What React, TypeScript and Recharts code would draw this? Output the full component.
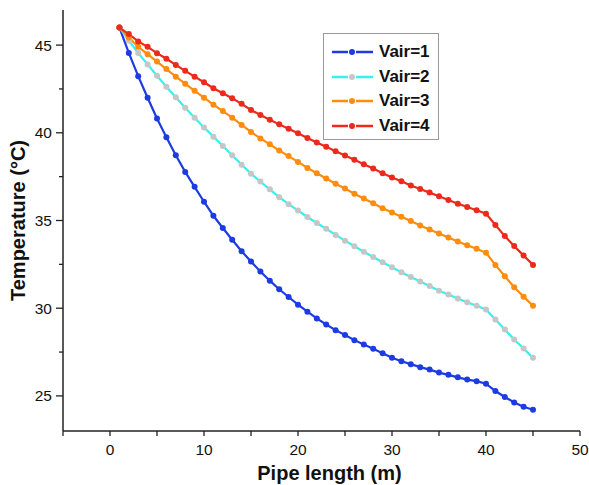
import { LineChart, Line, XAxis, YAxis, Legend, Label } from "recharts";

// pipe positions (m)
const pipeLength = [
  1, 2, 3, 4, 5, 6, 7, 8, 9, 10, 11, 12, 13, 14, 15, 16, 17, 18, 19, 20, 21, 22, 23,
  24, 25, 26, 27, 28, 29, 30, 31, 32, 33, 34, 35, 36, 37, 38, 39, 40, 41, 42, 43, 44, 45,
];

// temperature (°C) per air velocity
const vair1 = [
  46.0, 44.55, 43.23, 42.0, 40.82, 39.75, 38.72, 37.77, 36.92, 36.07,
  35.27, 34.57, 33.9, 33.25, 32.66, 32.09, 31.57, 31.08, 30.64, 30.2,
  29.8, 29.42, 29.07, 28.75, 28.47, 28.18, 27.93, 27.69, 27.43, 27.17,
  26.98, 26.81, 26.64, 26.5, 26.33, 26.2, 26.06, 25.93, 25.84, 25.7,
  25.28, 24.94, 24.63, 24.38, 24.21,
];
const vair2 = [
  46.0, 45.25, 44.55, 43.9, 43.25, 42.62, 42.02, 41.43, 40.86, 40.3,
  39.78, 39.25, 38.72, 38.18, 37.67, 37.22, 36.78, 36.33, 35.93, 35.57,
  35.2, 34.86, 34.53, 34.18, 33.85, 33.53, 33.22, 32.92, 32.62, 32.33,
  32.05, 31.78, 31.52, 31.26, 31.0, 30.78, 30.55, 30.34, 30.14, 29.93,
  29.35, 28.78, 28.22, 27.7, 27.17,
];
const vair3 = [
  46.0, 45.43, 44.9, 44.48, 44.06, 43.63, 43.2, 42.8, 42.39, 42.0,
  41.6, 41.24, 40.86, 40.45, 40.05, 39.68, 39.34, 38.99, 38.67, 38.34,
  38.0, 37.69, 37.39, 37.1, 36.82, 36.53, 36.26, 35.98, 35.7, 35.46,
  35.22, 34.97, 34.72, 34.49, 34.26, 34.03, 33.8, 33.59, 33.39, 33.16,
  32.47, 31.82, 31.19, 30.66, 30.14,
];
const vair4 = [
  46.0, 45.63, 45.21, 44.9, 44.54, 44.22, 43.87, 43.53, 43.2, 42.88,
  42.54, 42.25, 41.97, 41.65, 41.3, 41.01, 40.74, 40.48, 40.23, 39.97,
  39.7, 39.45, 39.2, 38.95, 38.71, 38.46, 38.21, 37.96, 37.7, 37.45,
  37.24, 37.0, 36.8, 36.59, 36.38, 36.17, 35.96, 35.77, 35.58, 35.39,
  34.74, 34.11, 33.54, 33.0, 32.47,
];

const seriesNames = ["Vair=1", "Vair=2", "Vair=3", "Vair=4"];
const lineColors = ["#1d3be2", "#38f0f0", "#ff8c0e", "#ec2a1c"];
const dotColors = ["#1d3be2", "#c6c6c6", "#ff8c0e", "#ec2a1c"];

const xTicks = [-5, 0, 5, 10, 15, 20, 25, 30, 35, 40, 45, 50];
const yTicks = [25, 27.5, 30, 32.5, 35, 37.5, 40, 42.5, 45];

const data = pipeLength.map((x, i) => ({
  x,
  v1: vair1[i],
  v2: vair2[i],
  v3: vair3[i],
  v4: vair4[i],
}));

const FRAME = "#222";
const FONT = "'Liberation Sans', Arial, sans-serif";

const LeftTick = ({ x, y, payload }: any) => {
  const major = payload.value % 5 === 0;
  return (
    <g>
      <line x1={x} y1={y} x2={x - (major ? 7 : 4)} y2={y} stroke={FRAME} strokeWidth={1.3} />
      {major && (
        <text x={x - 11} y={y} dy="0.36em" textAnchor="end" fontSize={15.5} fill="#111" fontFamily={FONT}>
          {payload.value}
        </text>
      )}
    </g>
  );
};

const BottomTick = ({ x, y, payload }: any) => {
  const major = payload.value % 10 === 0;
  return (
    <g>
      <line x1={x} y1={y} x2={x} y2={y + 5} stroke={FRAME} strokeWidth={1.3} />
      {major && (
        <text x={x} y={y + 24} textAnchor="middle" fontSize={15.5} fill="#111" fontFamily={FONT}>
          {payload.value}
        </text>
      )}
    </g>
  );
};

const TopTick = ({ x, y }: any) => (
  <line x1={x} y1={y} x2={x} y2={y + 7} stroke={FRAME} strokeWidth={1.3} />
);
const RightTick = ({ x, y }: any) => (
  <line x1={x} y1={y} x2={x - 8} y2={y} stroke={FRAME} strokeWidth={1.3} />
);

const XTitle = ({ viewBox }: any) =>
  viewBox ? (
    <text
      x={viewBox.x + viewBox.width / 2 + 8}
      y={viewBox.y + viewBox.height - 5}
      textAnchor="middle"
      fontSize={20}
      fontWeight="bold"
      fill="#111"
      fontFamily={FONT}
    >
      Pipe length (m)
    </text>
  ) : null;

const YTitle = ({ viewBox }: any) => {
  if (!viewBox) return null;
  const cx = viewBox.x + 18;
  const cy = viewBox.y + viewBox.height / 2;
  return (
    <text
      x={cx}
      y={cy}
      transform={`rotate(-90, ${cx}, ${cy})`}
      textAnchor="middle"
      dominantBaseline="central"
      fontSize={20}
      fontWeight="bold"
      fill="#111"
      fontFamily={FONT}
    >
      Temperature (°C)
    </text>
  );
};

const LegendBox = () => (
  <div
    style={{
      width: 116,
      height: 107,
      border: "1px solid #9a9a9a",
      background: "#fff",
      boxSizing: "border-box",
      paddingTop: 6,
    }}
  >
    {seriesNames.map((name, i) => (
      <div key={name} style={{ display: "flex", alignItems: "center", height: 24.5 }}>
        <svg width={41} height={10} style={{ marginLeft: 8, marginRight: 6 }}>
          <line x1={0} y1={5} x2={16} y2={5} stroke={lineColors[i]} strokeWidth={2.5} />
          <circle cx={20} cy={5} r={3} fill={dotColors[i]} />
          <line x1={24} y1={5} x2={41} y2={5} stroke={lineColors[i]} strokeWidth={2.5} />
        </svg>
        <span style={{ fontFamily: FONT, fontWeight: "bold", fontSize: 17, color: "#111" }}>{name}</span>
      </div>
    ))}
  </div>
);

const keys = ["v1", "v2", "v3", "v4"];

const App = () => {
  return (
    <div style={{ position: "absolute", left: 0, top: 0, background: "#fff" }}>
      <LineChart width={589} height={485} data={data} margin={{ top: 10, right: 9, bottom: 0, left: 0 }}>
        <XAxis
          dataKey="x"
          type="number"
          domain={[-5, 50]}
          ticks={xTicks}
          interval={0}
          height={54}
          tickSize={0}
          tickMargin={0}
          tickLine={false}
          tick={<BottomTick />}
          axisLine={{ stroke: FRAME, strokeWidth: 1.5 }}
          allowDataOverflow
        >
          <Label content={<XTitle />} />
        </XAxis>
        <XAxis
          xAxisId="top"
          orientation="top"
          type="number"
          domain={[-5, 50]}
          ticks={xTicks}
          interval={0}
          height={0}
          tickSize={0}
          tickMargin={0}
          tickLine={false}
          tick={<TopTick />}
          axisLine={{ stroke: FRAME, strokeWidth: 1.5 }}
          allowDataOverflow
        />
        <YAxis
          type="number"
          domain={[23, 47]}
          ticks={yTicks}
          interval={0}
          width={63}
          tickSize={0}
          tickMargin={0}
          tickLine={false}
          tick={<LeftTick />}
          axisLine={{ stroke: FRAME, strokeWidth: 1.5 }}
          allowDataOverflow
        >
          <Label content={<YTitle />} />
        </YAxis>
        <YAxis
          yAxisId="right"
          orientation="right"
          type="number"
          domain={[23, 47]}
          ticks={yTicks}
          interval={0}
          width={0}
          tickSize={0}
          tickMargin={0}
          tickLine={false}
          tick={<RightTick />}
          axisLine={{ stroke: FRAME, strokeWidth: 1.5 }}
          allowDataOverflow
        />
        <Legend
          layout="vertical"
          align="center"
          verticalAlign="middle"
          content={<LegendBox />}
          wrapperStyle={{ left: 323, top: 33, width: 116, margin: 0 }}
        />
        {keys.map((k, i) => (
          <Line
            key={k}
            dataKey={k}
            name={seriesNames[i]}
            type="linear"
            stroke={lineColors[i]}
            strokeWidth={2.2}
            dot={{ r: 3, fill: dotColors[i], stroke: "none" }}
            activeDot={false}
            isAnimationActive={false}
          />
        ))}
      </LineChart>
    </div>
  );
};

export default App;
